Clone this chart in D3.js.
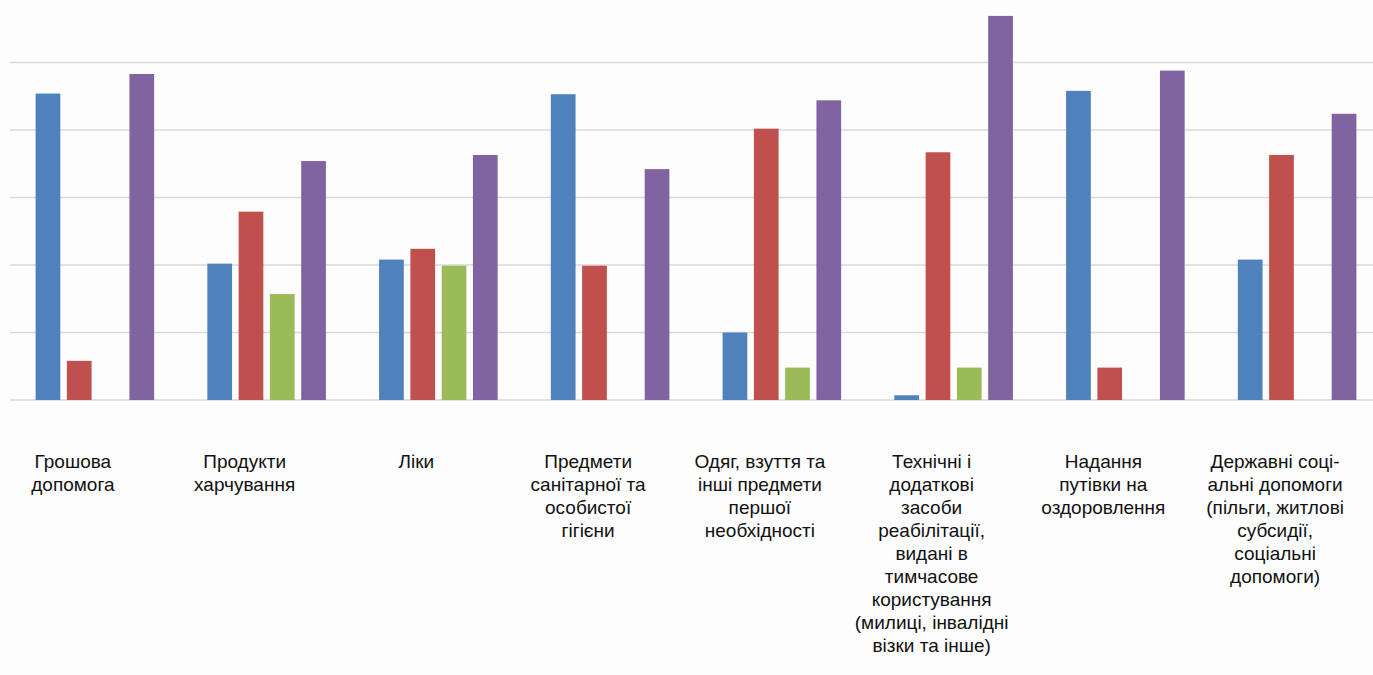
<!DOCTYPE html>
<html lang="uk">
<head>
<meta charset="utf-8">
<script src="https://cdn.jsdelivr.net/npm/d3@7"></script>
<style>
  html, body { margin: 0; padding: 0; background: #fdfdfd; }
  svg { display: block; }
  .cat-label { font-family: "Liberation Sans", Arial, sans-serif; font-size: 19px; fill: #111; }
</style>
</head>
<body>
<svg id="chart" width="1373" height="675"></svg>
<script>
// Categories of assistance, with their wrapped label lines
const categories = [
  "Грошова допомога",
  "Продукти харчування",
  "Ліки",
  "Предмети санітарної та особистої гігієни",
  "Одяг, взуття та інші предмети першої необхідності",
  "Технічні і додаткові засоби реабілітації, видані в тимчасове користування (милиці, інвалідні візки та інше)",
  "Надання путівки на оздоровлення",
  "Державні соціальні допомоги (пільги, житлові субсидії, соціальні допомоги)"
];
const labelLines = [
  ["Грошова", "допомога"],
  ["Продукти", "харчування"],
  ["Ліки"],
  ["Предмети", "санітарної та", "особистої", "гігієни"],
  ["Одяг, взуття та", "інші предмети", "першої", "необхідності"],
  ["Технічні і", "додаткові", "засоби", "реабілітації,", "видані в", "тимчасове", "користування", "(милиці, інвалідні", "візки та інше)"],
  ["Надання", "путівки на", "оздоровлення"],
  ["Державні соці-", "альні допомоги", "(пільги, житлові", "субсидії,", "соціальні", "допомоги)"]
];

// Four series, one value per category
const seriesNames = ["Ряд 1", "Ряд 2", "Ряд 3", "Ряд 4"];
const series1 = [45.4, 20.2, 20.8, 45.3, 10.0, 0.7, 45.8, 20.8];
const series2 = [5.8, 27.9, 22.4, 19.9, 40.2, 36.7, 4.8, 36.3];
const series3 = [0, 15.7, 19.9, 0, 4.8, 4.8, 0, 0];
const series4 = [48.3, 35.4, 36.3, 34.2, 44.4, 56.9, 48.8, 42.4];
const seriesValues = [series1, series2, series3, series4];
const yTicks = [0, 10, 20, 30, 40, 50, 60];

const colors = ["#4f81bd", "#c0504d", "#9bbb59", "#8064a2"];

const svg = d3.select("#chart");

const x0 = d3.scaleBand()
  .domain(categories)
  .range([9, 1383])
  .paddingInner(0)
  .paddingOuter(0);

const x1 = d3.scaleBand()
  .domain(seriesNames)
  .range([0, x0.bandwidth()])
  .paddingInner(0.21)
  .paddingOuter(0.85);

const y = d3.scaleLinear()
  .domain([0, 60])
  .range([400, -5]);

// Horizontal gridlines
svg.append("g")
  .selectAll("line")
  .data(yTicks)
  .join("line")
  .attr("x1", 10)
  .attr("x2", 1373)
  .attr("y1", d => y(d))
  .attr("y2", d => y(d))
  .attr("stroke", "#d9d9d9")
  .attr("stroke-width", 1.6);

// Bars
const rows = categories.map((c, i) => ({
  category: c,
  values: seriesNames.map((s, j) => ({ series: s, index: j, value: seriesValues[j][i] }))
}));

const groups = svg.append("g")
  .selectAll("g")
  .data(rows)
  .join("g")
  .attr("transform", d => `translate(${x0(d.category)},0)`);

groups.selectAll("rect")
  .data(d => d.values)
  .join("rect")
  .attr("x", d => x1(d.series))
  .attr("width", x1.bandwidth())
  .attr("y", d => y(d.value))
  .attr("height", d => y(0) - y(d.value))
  .attr("fill", d => colors[d.index]);

// Category labels under the plot
const labels = svg.append("g")
  .selectAll("text")
  .data(categories)
  .join("text")
  .attr("class", "cat-label")
  .attr("text-anchor", "middle")
  .attr("x", d => x0(d) + x0.bandwidth() / 2 - 22)
  .attr("y", 468);

labels.selectAll("tspan")
  .data((d, i) => labelLines[i].map((t, k) => ({ t, k, cx: x0(d) + x0.bandwidth() / 2 - 22 })))
  .join("tspan")
  .attr("x", d => d.cx)
  .attr("dy", d => d.k === 0 ? 0 : 23)
  .text(d => d.t);
</script>
</body>
</html>
